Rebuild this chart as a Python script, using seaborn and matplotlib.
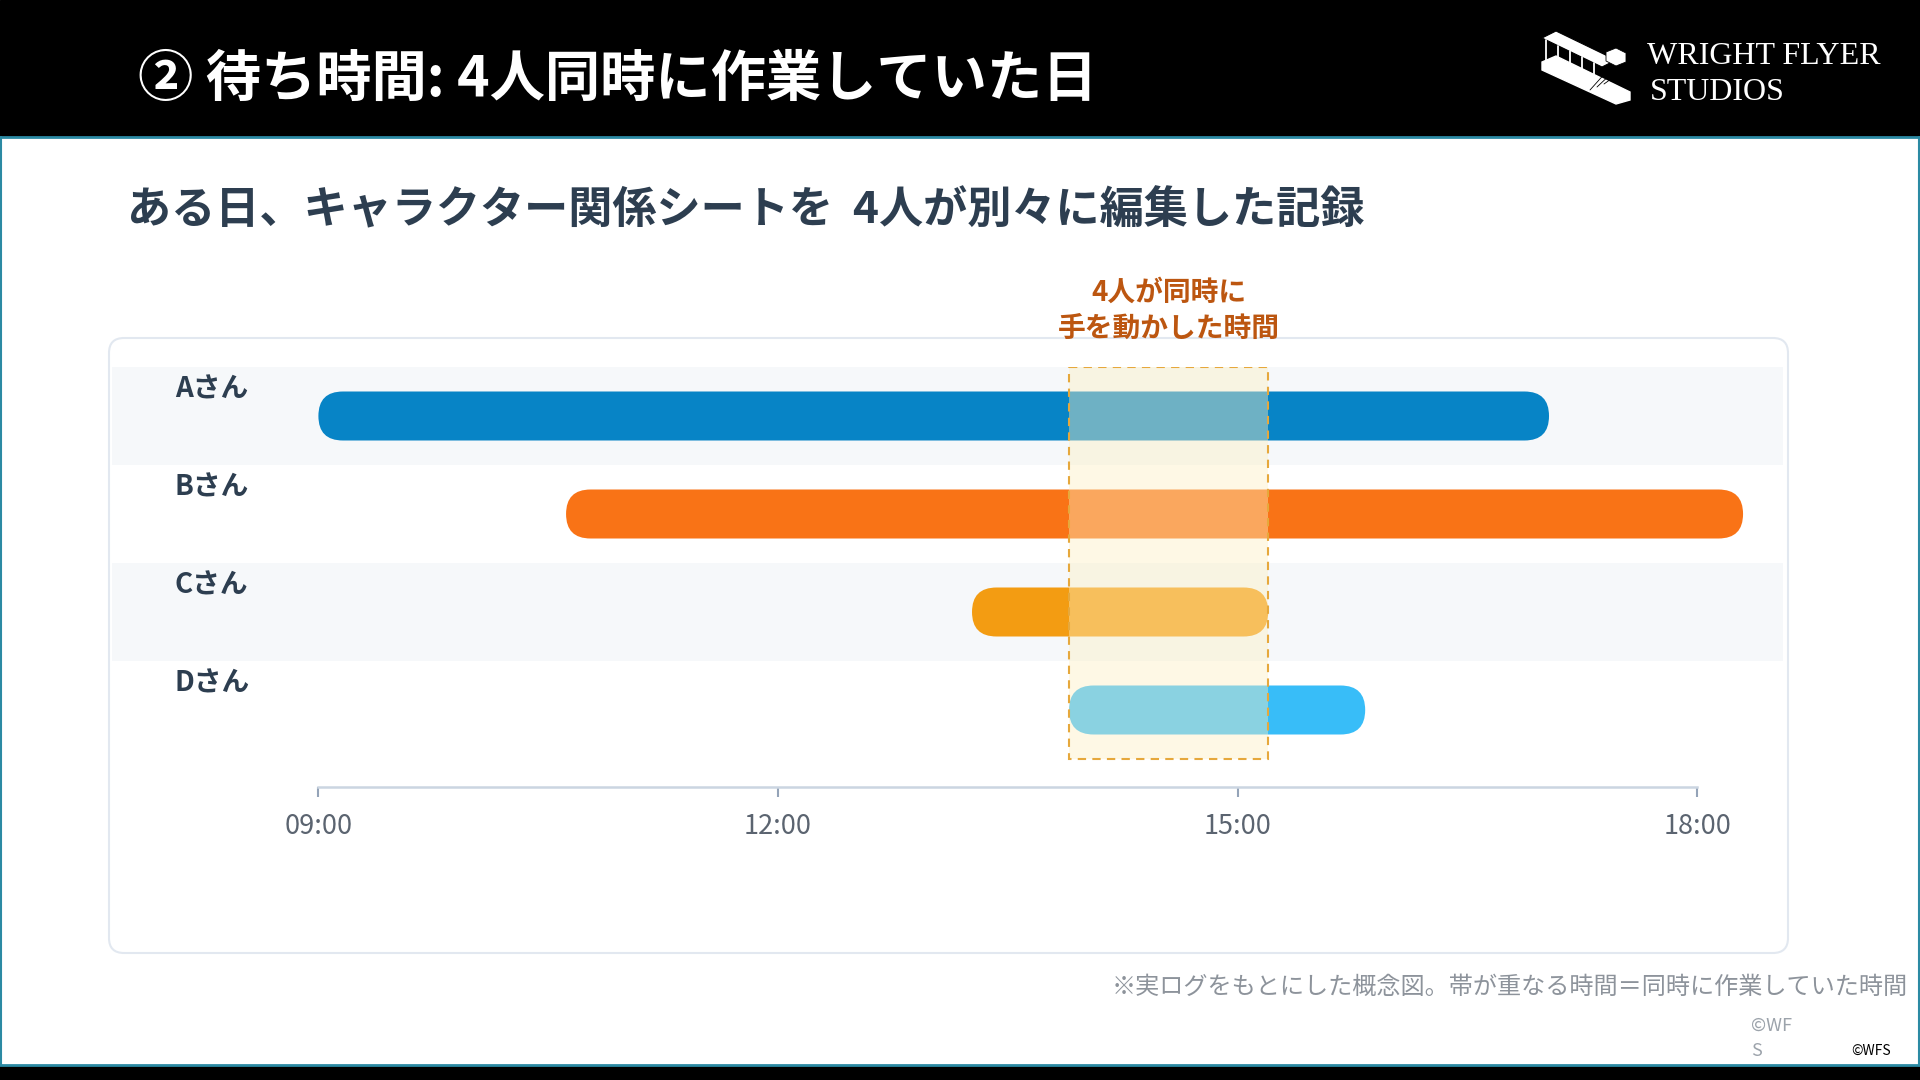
import matplotlib
matplotlib.use("Agg")
import numpy as np
import pandas as pd
import matplotlib.pyplot as plt
from matplotlib.patches import FancyBboxPatch, Rectangle, Polygon
import seaborn as sns

# ---------------- data ----------------
people = ["Aさん", "Bさん", "Cさん", "Dさん"]
start_times = ["09:00", "10:37", "13:16", "13:54"]
end_times = ["17:02", "18:18", "15:12", "15:50"]
bar_colors = ["#0784c6", "#f97316", "#f39c12", "#38bdf8"]
tick_hours = [9, 12, 15, 18]
tick_labels = ["09:00", "12:00", "15:00", "18:00"]
title_text = "② 待ち時間: 4人同時に作業していた日"
subtitle_text = "ある日、キャラクター関係シートを  4人が別々に編集した記録"
note_lines = ["4人が同時に", "手を動かした時間"]
footnote_text = "※実ログをもとにした概念図。帯が重なる時間＝同時に作業していた時間"
logo_lines = ["WRIGHT FLYER", "STUDIOS"]


def to_hours(s):
    h, m = s.split(":")
    return int(h) + int(m) / 60.0


starts = [to_hours(s) for s in start_times]
ends = [to_hours(s) for s in end_times]
df = pd.DataFrame({"person": people, "start": starts, "end": ends})
df["duration"] = df["end"] - df["start"]
overlap_start = max(starts)
overlap_end = min(ends)

# ---------------- style ----------------
sns.set_theme(style="white")
plt.rcParams["font.family"] = ["Noto Sans CJK JP", "DejaVu Sans"]

W, H = 1920, 1080
fig = plt.figure(figsize=(W / 100, H / 100), dpi=100)
fig.patch.set_facecolor("white")

# background axes in pixel coordinates
bg = fig.add_axes([0, 0, 1, 1])
bg.set_xlim(0, W)
bg.set_ylim(H, 0)
bg.axis("off")

teal = "#2b8aa3"
bg.add_patch(Rectangle((0, 0), W, 136, color="black", zorder=1))
bg.plot([0, W], [137, 137], color=teal, lw=2, zorder=2)
bg.add_patch(Rectangle((0, 1066), W, 14, color="black", zorder=1))
bg.plot([0, W], [1065, 1065], color=teal, lw=2, zorder=2)
bg.plot([1, 1], [137, 1065], color=teal, lw=1.5, zorder=2)
bg.plot([W - 1, W - 1], [137, 1065], color=teal, lw=1.5, zorder=2)

bg.text(138, 80, title_text, color="white", fontsize=39.8, fontweight="bold",
        ha="left", va="center", zorder=3)
bg.text(127, 210, subtitle_text, color="#2d3e50", fontsize=31.8, fontweight="bold",
        ha="left", va="center", zorder=3)

# logo (simplified plane icon + text)
bg.add_patch(Polygon([(1542, 62), (1556, 56), (1630, 92), (1630, 100), (1616, 104), (1542, 70)],
                     closed=True, fc="white", ec="white", lw=1, zorder=3))
bg.add_patch(Polygon([(1542, 38), (1556, 31), (1616, 60), (1602, 67)],
                     closed=True, fc="white", ec="black", lw=0.8, zorder=4))
for sx in [1546, 1558, 1570, 1582, 1594]:
    top = 38 + (sx - 1542) * 0.48
    bg.plot([sx, sx], [top, top + 26], color="white", lw=1.3, zorder=4)
bg.add_patch(Polygon([(1606, 52), (1616, 48), (1626, 53), (1626, 62), (1616, 66), (1606, 61)],
                     closed=True, fc="white", ec="black", lw=0.6, zorder=4))
for k in range(4):
    bg.plot([1590 + k * 7, 1608 + k * 5], [90 - k * 3, 70 + k * 2], color="black", lw=0.6, zorder=5)
bg.text(1647, 56, logo_lines[0], family="Liberation Serif", color="white", fontsize=23,
        ha="left", va="center", zorder=3)
bg.text(1650, 93, logo_lines[1], family="Liberation Serif", color="white", fontsize=23,
        ha="left", va="center", zorder=3)

# card
bg.add_patch(FancyBboxPatch((109, 338), 1788 - 109, 953 - 338,
                            boxstyle="round,pad=0,rounding_size=15",
                            fc="white", ec="#e2e8f0", lw=1.5, zorder=2))

# footnotes
bg.text(1908, 987, footnote_text, color="#8d939b", fontsize=17.4, ha="right", va="center", zorder=3)
bg.text(1751, 1026, "©WF", color="#9ca3ab", fontsize=13, ha="left", va="center", zorder=3)
bg.text(1751, 1051, "S", color="#9ca3ab", fontsize=13, ha="left", va="center", zorder=3)
bg.text(1851, 1051, "©WFS", color="black", fontsize=10, ha="left", va="center", zorder=3)

# ---------------- chart axes ----------------
ax_l, ax_r, ax_t, ax_b = 109, 1788, 367, 787
ax = fig.add_axes([ax_l / W, 1 - ax_b / H, (ax_r - ax_l) / W, (ax_b - ax_t) / H])
ax.set_zorder(5)
ax.patch.set_alpha(0)

x9_px, x18_px = 318.4, 1697.1
px_per_hour = (x18_px - x9_px) / 9.0
xmin = 9 - (x9_px - ax_l) / px_per_hour
xmax = 9 + (ax_r - x9_px) / px_per_hour
row_px = 98.0
ymin = -0.5
ymax = ymin + (ax_b - ax_t) / row_px

sns.barplot(data=df, x="duration", y="person", hue="person", order=people, hue_order=people,
            palette=dict(zip(people, bar_colors)), orient="h", width=0.5, saturation=1,
            legend=False, ax=ax)

ax.set_xlim(xmin, xmax)
ax.set_ylim(ymax, ymin)

# rounded bars placed at their start times
aspect = (1.0 / row_px) / (1.0 / px_per_hour)
for p in list(ax.patches):
    y0, h, w = p.get_y(), p.get_height(), p.get_width()
    i = int(round(y0 + h / 2))
    fc = p.get_facecolor()
    p.remove()
    r = (h / aspect) / 2.0
    ax.add_patch(FancyBboxPatch((starts[i], y0), w, h,
                                boxstyle=f"round,pad=0,rounding_size={r}",
                                mutation_aspect=aspect, fc=fc, ec="none", zorder=2))

# alternating row bands
for i in range(len(people)):
    if i % 2 == 0:
        ax.axhspan(i - 0.5, i + 0.5, xmin=0.002, xmax=0.997, color="#f6f8fa", zorder=0, lw=0)
    ax.text(0.0393, i - 0.27, people[i], transform=ax.get_yaxis_transform(),
            ha="left", va="center", fontsize=20, fontweight="bold", color="#2d3e50", zorder=6)

# overlap highlight
ax.add_patch(Rectangle((overlap_start, -0.5), overlap_end - overlap_start, len(people),
                       fc=(253 / 255, 240 / 255, 195 / 255, 0.42), ec="none", zorder=3))
ax.add_patch(Rectangle((overlap_start, -0.5), overlap_end - overlap_start, len(people),
                       fill=False, ec="#e6a83c", lw=1.5, ls=(0, (4, 3)), zorder=4))
mid = (overlap_start + overlap_end) / 2
ax.annotate(note_lines[0], xy=(mid, -0.5), xytext=(0, 53.5), textcoords="offset points",
            ha="center", va="center", fontsize=20, fontweight="bold", color="#bc5610",
            annotation_clip=False, zorder=7)
ax.annotate(note_lines[1], xy=(mid, -0.5), xytext=(0, 27.8), textcoords="offset points",
            ha="center", va="center", fontsize=20, fontweight="bold", color="#bc5610",
            annotation_clip=False, zorder=7)

# axes styling
for s in ["top", "right", "left"]:
    ax.spines[s].set_visible(False)
ax.spines["bottom"].set_color("#cbd5e1")
ax.spines["bottom"].set_linewidth(1.8)
ax.spines["bottom"].set_bounds(tick_hours[0], tick_hours[-1])
ax.set_xticks(tick_hours)
ax.set_xticklabels(tick_labels)
ax.set_yticks([])
ax.set_xlabel("")
ax.set_ylabel("")
ax.tick_params(axis="x", direction="out", length=7, width=1.5, color="#94a3b8",
               pad=12, labelsize=19.5, labelcolor="#5b6470", bottom=True)
ax.grid(False)

fig.savefig("out.png", dpi=100)
